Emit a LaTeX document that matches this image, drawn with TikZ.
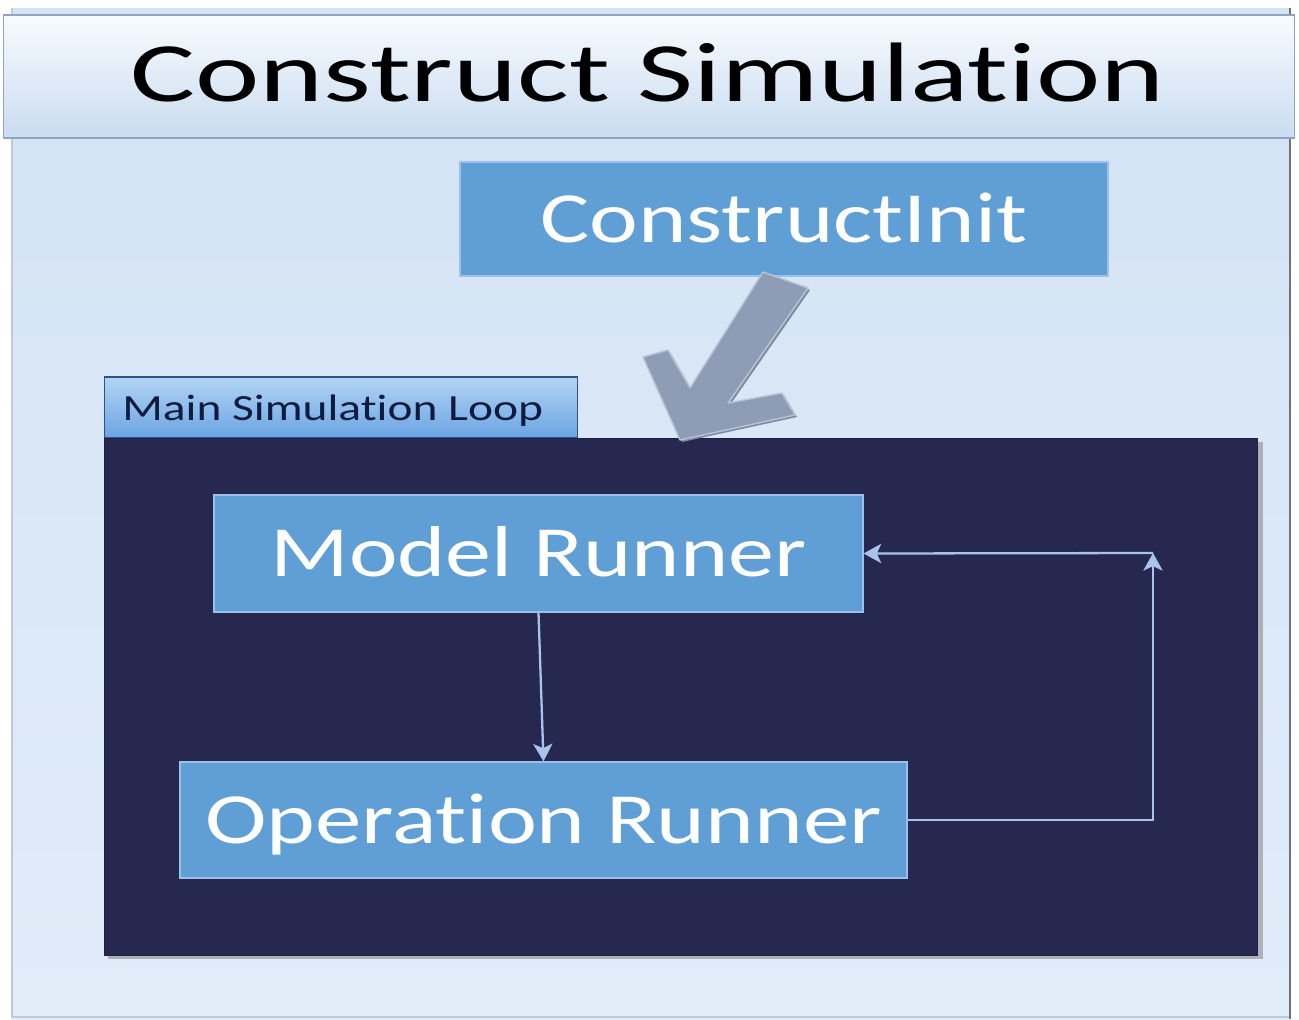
\documentclass[tikz,border=0pt]{standalone}
\usepackage{fontspec}
\setmainfont{Carlito}[Ligatures={NoCommon},Contextuals={NoAlternate}]
\usetikzlibrary{arrows.meta}
\newcommand{\nolig}{\kern0pt{}}
\definecolor{bgtop}{HTML}{D3E3F4}
\definecolor{bgbot}{HTML}{E1ECF9}
\definecolor{bartop}{HTML}{F8FBFE}
\definecolor{barbot}{HTML}{CADCF1}
\definecolor{barline}{HTML}{8FA6C0}
\definecolor{boxfill}{HTML}{5F9FD6}
\definecolor{boxline}{HTML}{9CC0E8}
\definecolor{panel}{HTML}{26284F}
\definecolor{conn}{HTML}{A9C3EC}
\definecolor{tabtop}{HTML}{B3D4F4}
\definecolor{tabmid}{HTML}{4C8DD8}
\definecolor{tabbot}{HTML}{6AA4E3}
\definecolor{tabtext}{HTML}{0F1C3F}
\definecolor{arrfill}{HTML}{8E9CB5}
\definecolor{arredge}{HTML}{B9C4D6}
\definecolor{arrshadow}{HTML}{7E8AA0}
\tikzset{
  bluebox/.style={draw=boxline, line width=0.8pt, fill=boxfill, text=white,
    font=\fontsize{41}{41}\selectfont, text height=26.4pt, text depth=0pt,
    inner sep=0pt},
  conn/.style={draw=conn, line width=1.3pt,
    -{Stealth[width=11pt,length=10pt,inset=2.5pt]}},
}
\begin{document}
\begin{tikzpicture}[x=0.02cm,y=-0.02cm]
\useasboundingbox (0,0) rectangle (1299,1019);
% outer light panel
\shade[top color=bgtop, bottom color=bgbot] (12,8) rectangle (1290,1019);
\draw[draw=barline!60, line width=0.6pt] (12,8) -- (12,1017) -- (1290,1017);
\draw[draw=black!55, line width=1.4pt] (1290,8) -- (1290,1019);
% title bar
\node[draw=barline, line width=0.7pt, top color=bartop, bottom color=barbot,
  minimum width=25.84cm, minimum height=2.46cm, inner sep=0pt] (titlebar) at (649,76.5) {};
\node[font=\fontsize{48}{48}\selectfont, text height=30.9pt, text depth=0pt, inner sep=0pt]
  (title) at (648,74) {\resizebox{20.7cm}{\height}{Construct Simulat\nolig ion}};
% ConstructInit
\node[bluebox, minimum width=12.96cm, minimum height=2.28cm] (cinit) at (784,219)
  {\resizebox{9.74cm}{\height}{ConstructInit}};
% main loop tab
\node[draw=tabmid!60!black, line width=0.6pt, top color=tabtop, middle color=tabmid,
  bottom color=tabbot, minimum width=9.48cm, minimum height=1.22cm, inner sep=0pt]
  (tab) at (341,407.5) {};
\node[anchor=west, text=tabtext, font=\fontsize{21}{21}\selectfont, inner sep=0pt,
  text height=13.5pt, text depth=0pt] (tablabel) at (122,409)
  {\resizebox{8.42cm}{\height}{Main Simulat\nolig ion Loop}};
% dark panel with shadow
\fill[black!45, opacity=0.6] (108,442) rectangle (1263,959);
\node[fill=panel, draw=panel!80!black, minimum width=23.06cm, minimum height=10.34cm,
  inner sep=0pt] (loop) at (680.5,696.5) {};
% big grey arrow
\fill[arrshadow] ([shift={(2,2)}]763,272) -- ([shift={(2,2)}]808,288) -- ([shift={(2,2)}]728,403)
  -- ([shift={(2,2)}]782,393) -- ([shift={(2,2)}]795,415) -- ([shift={(2,2)}]680,440)
  -- ([shift={(2,2)}]643,357) -- ([shift={(2,2)}]668,350) -- ([shift={(2,2)}]690,388) -- cycle;
\filldraw[fill=arrfill, draw=arredge, line width=0.8pt, line join=round]
  (763,272) -- (808,288) -- (728,403) -- (782,393) -- (795,415) -- (680,440)
  -- (643,357) -- (668,350) -- (690,388) -- cycle;
% inner boxes
\node[bluebox, minimum width=12.98cm, minimum height=2.34cm] (model) at (538.5,553.5)
  {\resizebox{10.72cm}{\height}{Model Runner}};
\node[bluebox, minimum width=14.54cm, minimum height=2.32cm] (oper) at (543.5,820)
  {\resizebox{13.54cm}{\height}{Operat\nolig ion Runner}};
% connectors
\coordinate (corner) at (1153,553);
\draw[conn] (model.south) -- (oper.north);
\draw[conn] (oper.east) -| (corner);
\draw[conn] (corner) -- (model.east);
\end{tikzpicture}
\end{document}
